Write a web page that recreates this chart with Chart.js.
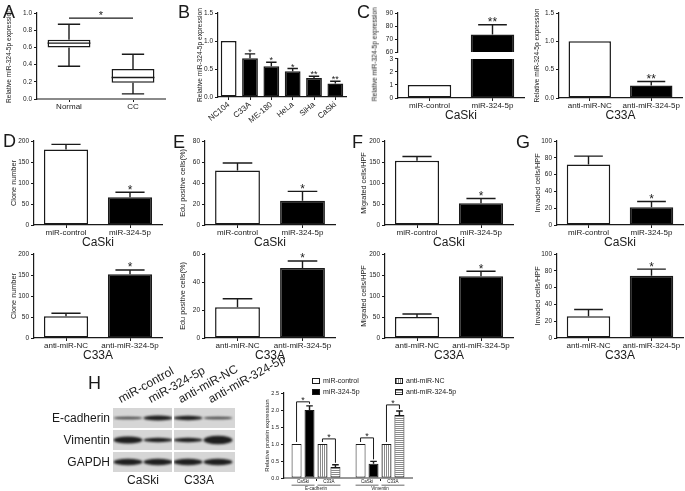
<!DOCTYPE html>
<html>
<head>
<meta charset="utf-8">
<script src="https://cdn.jsdelivr.net/npm/chart.js@4.4.0/dist/chart.umd.min.js"></script>
<style>
body{margin:0;background:#fff;}
#fig{position:relative;width:685px;height:491px;overflow:hidden;font-family:"Liberation Sans",Arial,sans-serif;color:#1a1a1a;}
#fig canvas{position:absolute;}
.tx{position:absolute;white-space:nowrap;line-height:1;}
</style>
</head>
<body>
<div id="fig"></div>
<script>
// ---- values ----
const boxCats = ['Normal', 'CC'];
const boxMin = [0.38, 0.06];
const boxQ1  = [0.60, 0.19];
const boxMed = [0.65, 0.25];
const boxQ3  = [0.69, 0.35];
const boxMax = [0.87, 0.52];

const lineCats  = ['NC104', 'C33A', 'ME-180', 'HeLa', 'SiHa', 'CaSki'];
const lineExpr  = [1.0, 0.69, 0.55, 0.46, 0.34, 0.24];
const lineErr   = [0, 0.08, 0.07, 0.05, 0.03, 0.04];
const lineStars = ['', '*', '*', '*', '**', '**'];

const caskiCats = ['miR-control', 'miR-324-5p'];
const c33aCats  = ['anti-miR-NC', 'anti-miR-324-5p'];
const oneStar = ['', '*'];
const twoStar = ['', '**'];

const qpcrCaski  = [1, 73.5], qpcrCaskiErr  = [0, 7.5];
const qpcrC33a   = [1, 0.22], qpcrC33aErr   = [0, 0.07];
const cloneCaski = [180, 66], cloneCaskiErr = [12, 12];
const cloneC33a  = [52, 152], cloneC33aErr  = [7, 10];
const eduCaski   = [52, 23],  eduCaskiErr   = [7, 9];
const eduC33a    = [22, 50],  eduC33aErr    = [6, 5];
const migCaski   = [153, 52], migCaskiErr   = [10, 11];
const migC33a    = [50, 147], migC33aErr    = [7, 12];
const invCaski   = [72, 21],  invCaskiErr   = [10, 7];
const invC33a    = [26, 74],  invC33aErr    = [8, 8];

const protCats  = ['E-cadherin', 'Vimentin'];
const protLines = ['CaSki', 'C33A'];
const protCtrl  = [1, 1];
const protMimic = [2.0, 0.42], protMimicErr = [0.12, 0.07];
const protNC    = [1, 1];
const protInhib = [0.32, 1.85], protInhibErr = [0.07, 0.12];
// [group, dataset a, dataset b, bracket level]
const protSig = [[0, 0, 1, 2.24], [0, 2, 3, 1.15], [1, 0, 1, 1.18], [1, 2, 3, 2.15]];

const blotRows  = ['E-cadherin', 'Vimentin', 'GAPDH'];
const blotLanes = ['miR-control', 'miR-324-5p', 'anti-miR-NC', 'anti-miR-324-5p'];
const blotBand  = [[2.5, 5, 4.5, 2.5], [7, 4.5, 4.5, 8.5], [6.5, 6.5, 6.5, 6.5]];

const INK = '#1a1a1a';
const FONT = '"Liberation Sans", Arial, sans-serif';
Chart.defaults.font.family = FONT;
Chart.defaults.color = INK;
const fig = document.getElementById('fig');

// error bars + stars above bars
const barMarks = {
  id: 'barMarks',
  afterDatasetsDraw(chart, args, opts) {
    const ctx = chart.ctx, ys = chart.scales.y;
    chart.data.datasets.forEach((ds, di) => {
      if (!ds.errs && !ds.stars) return;
      chart.getDatasetMeta(di).data.forEach((bar, i) => {
        const v = ds.data[i];
        if (v == null) return;
        const e = ds.errs ? ds.errs[i] : 0;
        const top = ys.getPixelForValue(v + e);
        ctx.save();
        ctx.strokeStyle = INK;
        ctx.lineWidth = opts.lw || 1.4;
        if (e) {
          const cw = bar.width * 0.33;
          ctx.beginPath();
          ctx.moveTo(bar.x, bar.y); ctx.lineTo(bar.x, top);
          ctx.moveTo(bar.x - cw, top); ctx.lineTo(bar.x + cw, top);
          ctx.stroke();
        }
        const s = ds.stars && ds.stars[i];
        if (s) {
          const fs = opts.star || 12;
          ctx.fillStyle = INK;
          ctx.font = fs + 'px ' + FONT;
          ctx.textAlign = 'center';
          ctx.textBaseline = 'alphabetic';
          ctx.fillText(s, bar.x, top + fs * 0.12);
        }
        ctx.restore();
      });
    });
  }
};

// whiskers, medians and the significance line for panel A
const boxMarks = {
  id: 'boxMarks',
  afterDatasetsDraw(chart) {
    const ctx = chart.ctx, ys = chart.scales.y;
    const p = v => ys.getPixelForValue(v);
    const bars = chart.getDatasetMeta(0).data;
    ctx.save();
    ctx.strokeStyle = INK;
    ctx.lineWidth = 1.4;
    bars.forEach((bar, i) => {
      const x = bar.x, hw = bar.width / 2, cw = bar.width * 0.26;
      ctx.beginPath();
      ctx.moveTo(x, p(boxQ3[i])); ctx.lineTo(x, p(boxMax[i]));
      ctx.moveTo(x - cw, p(boxMax[i])); ctx.lineTo(x + cw, p(boxMax[i]));
      ctx.moveTo(x, p(boxQ1[i])); ctx.lineTo(x, p(boxMin[i]));
      ctx.moveTo(x - cw, p(boxMin[i])); ctx.lineTo(x + cw, p(boxMin[i]));
      ctx.moveTo(x - hw, p(boxMed[i])); ctx.lineTo(x + hw, p(boxMed[i]));
      ctx.stroke();
    });
    const ySig = p(0.94);
    ctx.beginPath();
    ctx.moveTo(bars[0].x, ySig); ctx.lineTo(bars[1].x, ySig);
    ctx.stroke();
    ctx.fillStyle = INK;
    ctx.font = '11px ' + FONT;
    ctx.textAlign = 'center';
    ctx.fillText('*', (bars[0].x + bars[1].x) / 2, ySig + 1);
    ctx.restore();
  }
};

// brackets, group labels and legend for panel H
const protMarks = {
  id: 'protMarks',
  afterDraw(chart) {
    const ctx = chart.ctx, ys = chart.scales.y, a = chart.chartArea;
    const ds = chart.data.datasets;
    const el = [0, 1, 2, 3].map(i => chart.getDatasetMeta(i).data);
    const topOf = (d, c) => ds[d].data[c] + (ds[d].errs ? ds[d].errs[c] : 0);
    ctx.save();
    ctx.strokeStyle = INK;
    ctx.fillStyle = INK;
    ctx.lineWidth = 1;
    ctx.textAlign = 'center';
    protSig.forEach(([c, da, db, lvl]) => {
      const A = el[da][c], B = el[db][c];
      const yb = ys.getPixelForValue(lvl);
      ctx.beginPath();
      ctx.moveTo(A.x, ys.getPixelForValue(topOf(da, c)) - 2);
      ctx.lineTo(A.x, yb); ctx.lineTo(B.x, yb);
      ctx.lineTo(B.x, ys.getPixelForValue(topOf(db, c)) - 2);
      ctx.stroke();
      ctx.font = '9px ' + FONT;
      ctx.fillText('*', (A.x + B.x) / 2, yb + 1.5);
    });
    protCats.forEach((name, c) => {
      const w = el[0][c].width / 2;
      const p1 = (el[0][c].x + el[1][c].x) / 2, p2 = (el[2][c].x + el[3][c].x) / 2;
      ctx.font = '4.5px ' + FONT;
      ctx.textBaseline = 'middle';
      ctx.fillText(protLines[0], p1, a.bottom + 4);
      ctx.fillText(protLines[1], p2, a.bottom + 4);
      ctx.fillStyle = '#9a9a9a';
      ctx.fillRect(el[0][c].x - w, a.bottom + 6.5, el[1][c].x - el[0][c].x + 2 * w, 1.5);
      ctx.fillRect(el[2][c].x - w, a.bottom + 6.5, el[3][c].x - el[2][c].x + 2 * w, 1.5);
      ctx.fillStyle = INK;
      ctx.fillText(name, (p1 + p2) / 2, a.bottom + 10.5);
    });
    // legend, two columns
    const cols = [a.left + 28, a.left + 111], rows = [6, 17];
    ds.forEach((d, i) => {
      const x = cols[i >> 1], y = rows[i & 1];
      ctx.fillStyle = d.backgroundColor;
      ctx.fillRect(x, y, 8, 6);
      ctx.strokeRect(x + 0.5, y + 0.5, 7, 5);
      ctx.fillStyle = INK;
      ctx.font = '7px ' + FONT;
      ctx.textAlign = 'left';
      ctx.textBaseline = 'middle';
      ctx.fillText(d.label, x + 11, y + 3.5);
    });
    ctx.restore();
  }
};

function makeChart(p) {
  const padT = p.padT ?? 6, padR = p.padR ?? 4, xh = p.xh ?? 0, padB = xh ? 0 : 5;
  const cv = document.createElement('canvas');
  cv.width = p.x1 - p.x0 + p.yw + padR;
  cv.height = p.y1 - p.y0 + padT + xh + padB;
  cv.style.left = (p.x0 - p.yw) + 'px';
  cv.style.top = (p.y0 - padT) + 'px';
  fig.appendChild(cv);
  return new Chart(cv, {
    type: 'bar',
    data: {labels: p.labels, datasets: p.datasets},
    plugins: p.plugins || [barMarks],
    options: {
      responsive: false,
      animation: false,
      events: [],
      layout: {padding: {top: padT, right: padR, bottom: padB, left: 0}},
      plugins: {legend: {display: false}, tooltip: {enabled: false}, barMarks: {star: p.star || 12}},
      scales: {
        x: {
          display: xh > 0,
          offset: true,
          grid: {drawOnChartArea: false, offset: false, tickLength: 3, color: INK},
          border: {color: p.xColor || INK, width: p.xLine || 1.2},
          ticks: {display: p.xTicks !== false, font: {size: p.catSize || 8}, color: INK, padding: 0,
                  autoSkip: false, minRotation: p.rot || 0, maxRotation: p.rot || 0},
          title: {display: !!p.xTitle, text: p.xTitle, font: {size: 12}, color: INK, padding: 0},
          afterFit: s => { s.height = xh; }
        },
        y: {
          min: p.min ?? 0,
          max: p.max,
          grid: {drawOnChartArea: false, tickLength: 3, color: INK},
          border: {color: INK, width: 1.2},
          ticks: {stepSize: p.step, font: {size: p.tickSize || 6.5}, color: INK, padding: 2,
                  callback: v => p.dec ? v.toFixed(p.dec) : v},
          title: {display: !!p.yTitle, text: p.yTitle, font: {size: p.ySize || 7.3}, color: INK,
                  padding: {top: p.yPad ?? 0.5, bottom: 0}},
          afterFit: s => { s.width = p.yw; }
        }
      }
    }
  });
}

function pairSet(vals, errs, stars, extra) {
  return [Object.assign({data: vals, errs: errs, stars: stars, backgroundColor: ['#fff', '#000'],
    borderColor: INK, borderWidth: 1.5, borderSkipped: false, barPercentage: 0.69, categoryPercentage: 1}, extra || {})];
}

function pairChart(o) {
  return makeChart(Object.assign({yw: 26, xh: 25, padT: 6, padR: 3, min: 0}, o));
}

// ---- A ----
makeChart({x0: 37, x1: 165, y0: 13, y1: 99, yw: 34, xh: 15, padT: 12, labels: boxCats,
  max: 1.0, step: 0.2, dec: 1, yTitle: 'Relative miR-324-5p expression', ySize: 6.6, yPad: 2,
  xColor: '#8a8a8a', xLine: 2,
  datasets: [{data: boxCats.map((c, i) => [boxQ1[i], boxQ3[i]]), backgroundColor: '#fff', borderColor: INK,
    borderWidth: 1.5, borderSkipped: false, barPercentage: 0.67, categoryPercentage: 1}],
  plugins: [boxMarks]});

// ---- B ----
makeChart({x0: 218, x1: 346, y0: 13, y1: 97, yw: 23, xh: 30, padT: 10, labels: lineCats,
  max: 1.5, step: 0.5, dec: 1, yTitle: 'Relative miR-324-5p expression', ySize: 6.6, yPad: 1, rot: 40, star: 9,
  datasets: [{data: lineExpr, errs: lineErr, stars: lineStars,
    backgroundColor: ['#fff', '#000', '#000', '#000', '#000', '#000'], borderColor: INK, borderWidth: 1.5,
    borderSkipped: false, barPercentage: 0.74, categoryPercentage: 1}]});

// ---- C (CaSki, broken axis) ----
pairChart({x0: 398, x1: 524, y0: 13, y1: 53, yw: 20, xh: 0, labels: caskiCats, min: 60, max: 90, step: 10,
  datasets: pairSet(qpcrCaski, qpcrCaskiErr, twoStar, {clip: 0})});
pairChart({x0: 398, x1: 524, y0: 58, y1: 98, yw: 20, padT: 5, labels: caskiCats, max: 3, step: 1,
  xTitle: 'CaSki', datasets: pairSet(qpcrCaski, null, null, {clip: 0})});
// ---- C (C33A) ----
pairChart({x0: 559, x1: 682, y0: 13, y1: 98, yw: 26, padT: 10, labels: c33aCats, max: 1.5, step: 0.5, dec: 1,
  yTitle: 'Relative miR-324-5p expression', ySize: 6.6, yPad: 0, xTitle: 'C33A',
  datasets: pairSet(qpcrC33a, qpcrC33aErr, twoStar)});

// ---- D-G, CaSki row then C33A row ----
pairChart({x0: 34, x1: 162, y0: 141, y1: 225, labels: caskiCats, max: 200, step: 50, yPad: 1.5,
  yTitle: 'Clone number', xTitle: 'CaSki', datasets: pairSet(cloneCaski, cloneCaskiErr, oneStar)});
pairChart({x0: 34, x1: 162, y0: 254, y1: 338, labels: c33aCats, max: 200, step: 50, yPad: 1.5,
  yTitle: 'Clone number', xTitle: 'C33A', datasets: pairSet(cloneC33a, cloneC33aErr, oneStar)});
pairChart({x0: 205, x1: 335, y0: 141, y1: 225, yw: 27, labels: caskiCats, max: 80, step: 20,
  yTitle: 'Edu positive cells(%)', xTitle: 'CaSki', datasets: pairSet(eduCaski, eduCaskiErr, oneStar)});
pairChart({x0: 205, x1: 335, y0: 254, y1: 338, yw: 27, labels: c33aCats, max: 60, step: 20,
  yTitle: 'Edu positive cells(%)', xTitle: 'C33A', datasets: pairSet(eduC33a, eduC33aErr, oneStar)});
pairChart({x0: 385, x1: 513, y0: 141, y1: 225, labels: caskiCats, max: 200, step: 50,
  yTitle: 'Migrated cells/HPF', xTitle: 'CaSki', datasets: pairSet(migCaski, migCaskiErr, oneStar)});
pairChart({x0: 385, x1: 513, y0: 254, y1: 338, labels: c33aCats, max: 200, step: 50,
  yTitle: 'Migrated cells/HPF', xTitle: 'C33A', datasets: pairSet(migC33a, migC33aErr, oneStar)});
pairChart({x0: 557, x1: 683, y0: 141, y1: 225, yw: 24, padR: 2, labels: caskiCats, max: 100, step: 20,
  yTitle: 'Invaded cells/HPF', xTitle: 'CaSki', datasets: pairSet(invCaski, invCaskiErr, oneStar)});
pairChart({x0: 557, x1: 683, y0: 254, y1: 338, yw: 24, padR: 2, labels: c33aCats, max: 100, step: 20,
  yTitle: 'Invaded cells/HPF', xTitle: 'C33A', datasets: pairSet(invC33a, invC33aErr, oneStar)});

// ---- H bar chart ----
function stripes(vertical) {
  const c = document.createElement('canvas');
  c.width = c.height = 2;
  const g = c.getContext('2d');
  g.fillStyle = '#fff'; g.fillRect(0, 0, 2, 2);
  g.fillStyle = '#8a8a8a';
  if (vertical) g.fillRect(0, 0, 1, 2); else g.fillRect(0, 0, 2, 1);
  return g.createPattern(c, 'repeat');
}
makeChart({x0: 284, x1: 412, y0: 392.5, y1: 478, yw: 22, xh: 13, padT: 21, padR: 60, labels: protCats,
  max: 2.5, step: 0.5, dec: 1, tickSize: 5.5, yTitle: 'Relative protein expression', ySize: 6, yPad: 1.4,
  xTicks: false, xColor: '#999', xLine: 2,
  datasets: [
    {label: 'miR-control', data: protCtrl, backgroundColor: '#fff'},
    {label: 'miR-324-5p', data: protMimic, errs: protMimicErr, backgroundColor: '#000'},
    {label: 'anti-miR-NC', data: protNC, backgroundColor: stripes(true)},
    {label: 'anti-miR-324-5p', data: protInhib, errs: protInhibErr, backgroundColor: stripes(false)}
  ].map(d => Object.assign(d, {borderColor: INK, borderWidth: 1, borderSkipped: false,
    barPercentage: 0.77, categoryPercentage: 0.81})),
  plugins: [barMarks, protMarks]});

// ---- H western blot (picture, plain canvas) ----
(function drawBlot() {
  const cv = document.createElement('canvas');
  cv.width = 122; cv.height = 64;
  cv.style.left = '113px'; cv.style.top = '408px';
  fig.appendChild(cv);
  const g = cv.getContext('2d');
  blotRows.forEach((r, ri) => {
    const y = ri * 22;
    g.fillStyle = '#d6d6d6';
    g.fillRect(0, y, 122, 20);
    g.save();
    g.beginPath(); g.rect(0, y, 122, 20); g.clip();
    g.filter = 'blur(1.3px)';
    g.fillStyle = '#141414';
    blotBand[ri].forEach((t, li) => {
      const cx = 15 + li * 30;
      g.globalAlpha = t < 3 ? 0.75 : 0.95;
      g.beginPath();
      g.ellipse(cx, y + 10, 14.5, t / 2, 0, 0, Math.PI * 2);
      g.fill();
    });
    g.restore();
  });
  g.fillStyle = '#fff';
  g.fillRect(59, 0, 2, 64);
})();

// ---- plain text: panel letters, blot labels, C title ----
function txt(s, x, y, size, extra) {
  const d = document.createElement('div');
  d.className = 'tx';
  d.textContent = s;
  d.style.left = x + 'px';
  d.style.top = y + 'px';
  d.style.fontSize = size + 'px';
  if (extra) Object.assign(d.style, extra);
  fig.appendChild(d);
  return d;
}
[['A', 3, 3], ['B', 178, 3], ['C', 357, 3], ['D', 3, 132], ['E', 173, 133], ['F', 352, 133],
 ['G', 516, 133], ['H', 88, 374]].forEach(([s, x, y]) => txt(s, x, y, 18));

txt('Relative miR-324-5p expression', 315, 51, 6.6,
  {width: '120px', textAlign: 'center', transform: 'rotate(-90deg)'});

blotRows.forEach((r, i) => txt(r, 0, 412 + i * 22, 12, {left: 'auto', right: (685 - 110) + 'px'}));
txt(protLines[0], 127, 474, 12);
txt(protLines[1], 184, 474, 12);
blotLanes.forEach((s, i) => txt(s, 122 + i * 30, 393, 12,
  {transform: 'rotate(-29deg)', transformOrigin: '0 100%'}));
</script>
</body>
</html>
